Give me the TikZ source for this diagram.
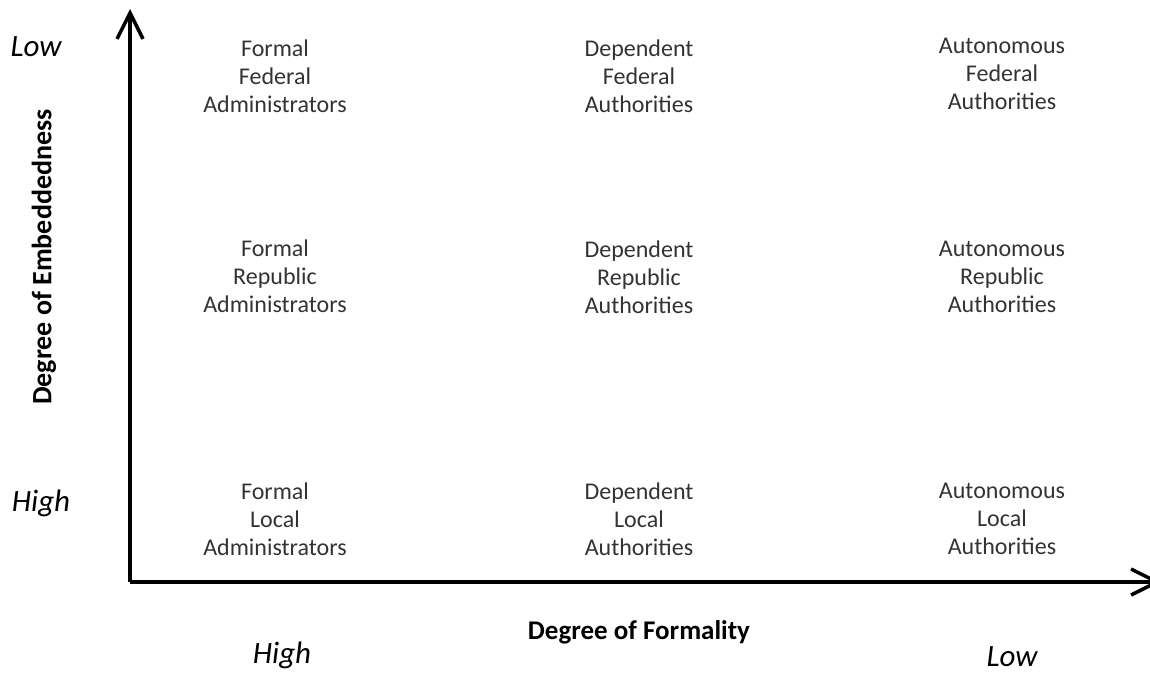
\documentclass[tikz,border=0pt]{standalone}
\usepackage{fontspec}
\setmainfont{Carlito}
\usetikzlibrary{arrows.meta}
\begin{document}
\begin{tikzpicture}[x=1pt,y=-1pt,
  axis/.style={line width=3.5pt,-{Straight Barb[length=26pt,width=26pt,line width=3.5pt]}},
  cell/.style={align=center,font=\fontsize{24}{28}\selectfont,text=black!80,inner sep=0pt},
  level/.style={font=\fontsize{31}{36}\selectfont\itshape,inner sep=0pt},
  axtitle/.style={font=\fontsize{27}{32}\selectfont\bfseries,inner sep=0pt}]
\useasboundingbox (0,0) rectangle (1150,673);
% axes
\coordinate (origin) at (130,582);
\coordinate (ytip) at (130,9);
\coordinate (xtip) at (1161,582);
\draw[axis] (origin) -- (ytip);
\draw[axis] (origin) -- (xtip);
% axis titles and levels
\node[axtitle,rotate=90,font=\fontsize{28}{32}\selectfont\bfseries] (ytitle) at (44,257) {Degree of Embeddedness};
\node[axtitle] (xtitle) at (639,632) {Degree of Formality};
\node[level] (ylow) at (36,47) {Low};
\node[level] (yhigh) at (41,503) {High};
\node[level] (xhigh) at (282,655) {High};
\node[level] (xlow) at (1012,657) {Low};
% cells
\node[cell] (c11) at (275,76) {Formal\\Federal\\Administrators};
\node[cell] (c12) at (639,76) {Dependent\\Federal\\Authorities};
\node[cell] (c13) at (1002,74) {Autonomous\\Federal\\Authorities};
\node[cell] (c21) at (275,276) {Formal\\Republic\\Administrators};
\node[cell] (c22) at (639,277) {Dependent\\Republic\\Authorities};
\node[cell] (c23) at (1002,277) {Autonomous\\Republic\\Authorities};
\node[cell] (c31) at (275,519) {Formal\\Local\\Administrators};
\node[cell] (c32) at (639,519) {Dependent\\Local\\Authorities};
\node[cell] (c33) at (1002,519) {Autonomous\\Local\\Authorities};
\end{tikzpicture}
\end{document}
